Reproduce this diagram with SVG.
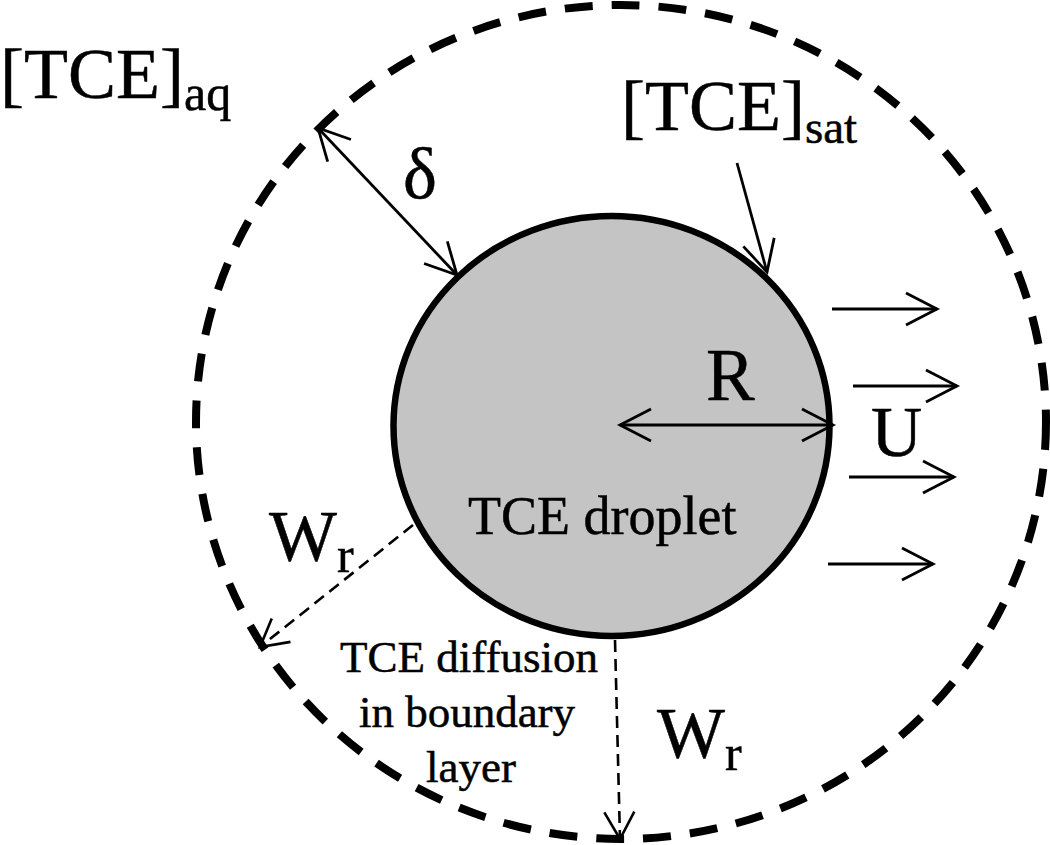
<svg xmlns="http://www.w3.org/2000/svg" width="1050" height="845" viewBox="0 0 1050 845">
<defs>
<style>
.big { font-size: 72px; }
.sub { font-size: 50px; }
.mid { font-size: 45px; }
.arr { fill: none; stroke: #000; stroke-width: 2.8; }
.dsh { fill: none; stroke: #000; stroke-width: 2.6; stroke-dasharray: 12 7; }
marker { overflow: visible; }
</style>
<marker id="ah" viewBox="0 0 31 32" refX="31" refY="16" markerWidth="31" markerHeight="32" markerUnits="userSpaceOnUse" orient="auto-start-reverse">
<path d="M0,0 L31,16 L0,32" fill="none" stroke="#000" stroke-width="2.8"/>
</marker>
<marker id="ahd" viewBox="0 0 27 30" refX="27" refY="15" markerWidth="27" markerHeight="30" markerUnits="userSpaceOnUse" orient="auto">
<path d="M0,0 L27,15 L0,30" fill="none" stroke="#000" stroke-width="2.6"/>
</marker>
</defs>
<rect width="1050" height="845" fill="#fff"/>

<g id="boundary-layer">
<ellipse cx="621" cy="422" rx="425" ry="417" fill="none" stroke="#000" stroke-width="8" stroke-dasharray="28 19"/>
</g>

<g id="droplet">
<ellipse cx="611.5" cy="426" rx="218" ry="210" fill="#c4c4c4" stroke="#000" stroke-width="6.5"/>
<text x="468" y="534" font-family="Liberation Serif, DejaVu Serif, serif" font-size="54" stroke="#000" stroke-width="0.5">TCE droplet</text>
</g>

<g id="connectors">
<line class="arr" x1="318" y1="128" x2="457" y2="275" marker-start="url(#ah)" marker-end="url(#ah)"/>
<line class="arr" x1="737" y1="163" x2="767" y2="272" marker-end="url(#ah)"/>
<line class="arr" x1="620" y1="425" x2="833" y2="425" marker-start="url(#ah)" marker-end="url(#ah)"/>
<line class="arr" x1="832" y1="309" x2="937" y2="309" marker-end="url(#ah)"/>
<line class="arr" x1="853" y1="386" x2="957" y2="386" marker-end="url(#ah)"/>
<line class="arr" x1="849" y1="477" x2="954" y2="477" marker-end="url(#ah)"/>
<line class="arr" x1="828" y1="564" x2="933" y2="564" marker-end="url(#ah)"/>
<line class="dsh" x1="413" y1="525" x2="260" y2="647" marker-end="url(#ahd)"/>
<line class="dsh" x1="615" y1="640" x2="620" y2="839" marker-end="url(#ahd)"/>
</g>

<g font-family="Liberation Serif, DejaVu Serif, serif" fill="#000" stroke="#000" stroke-width="0.5">
<g id="label-aq">
<text x="0" y="98" class="big">[TCE]<tspan class="sub" dy="12">aq</tspan></text>
</g>
<g id="label-sat">
<text x="621" y="130" class="big">[TCE]<tspan font-size="47" dy="13">sat</tspan></text>
</g>
<g id="label-delta">
<text x="403" y="198" class="big">δ</text>
</g>
<g id="label-R">
<text x="706" y="400" font-size="73">R</text>
</g>
<g id="label-U">
<text x="871" y="456" font-size="71">U</text>
</g>
<g id="label-Wr-left">
<text x="269" y="560" class="big">W<tspan class="sub" dy="12">r</tspan></text>
</g>
<g id="label-Wr-bottom">
<text x="657" y="757" class="big">W<tspan class="sub" dy="13">r</tspan></text>
</g>
<g id="label-diffusion">
<text x="469" y="672" class="mid" text-anchor="middle">TCE diffusion</text>
<text x="467" y="727" class="mid" text-anchor="middle">in boundary</text>
<text x="471" y="782" class="mid" text-anchor="middle">layer</text>
</g>
</g>
</svg>
